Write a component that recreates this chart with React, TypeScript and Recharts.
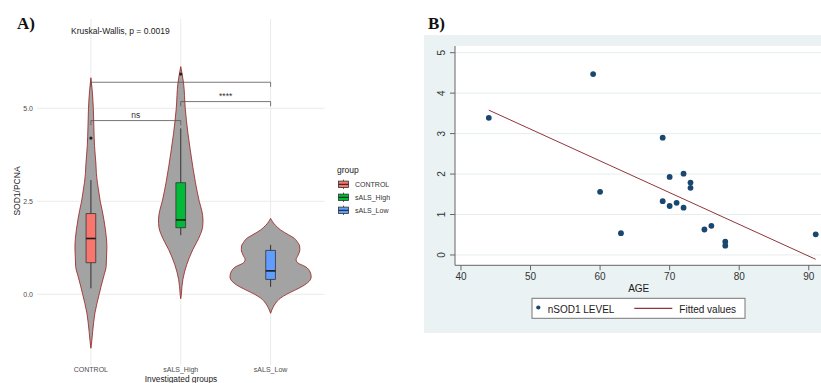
import React from 'react';
import {
  ComposedChart, Area, Line, Scatter, XAxis, YAxis, CartesianGrid,
  ReferenceLine, ReferenceArea, ReferenceDot,
} from 'recharts';

// ---- Panel A: SOD1/PCNA by group ----
const groups = ['CONTROL', 'sALS_High', 'sALS_Low'];
const groupPos = [1, 2, 3];
const groupColors = ['#F8766D', '#00BA38', '#619CFF'];
const majorTicksA = [0, 2.5, 5];
const minorTicksA = [-1.25, 1.25, 3.75, 6.25];

// violin outlines: SOD1/PCNA value and half width (in group units)
const controlY = [-1.45, -1.25, -1.0, -0.75, -0.5, -0.25, 0, 0.25, 0.5, 0.75, 1.0, 1.25, 1.5, 1.75, 2.0, 2.25, 2.5, 2.75, 3.0, 3.25, 3.5, 4.0, 4.5, 5.0, 5.5, 5.82];
const controlW = [0, 0.01, 0.02, 0.031, 0.045, 0.067, 0.092, 0.117, 0.145, 0.17, 0.174, 0.178, 0.173, 0.161, 0.145, 0.126, 0.104, 0.088, 0.072, 0.061, 0.056, 0.04, 0.033, 0.027, 0.014, 0];
const highY = [-0.12, 0, 0.2, 0.4, 0.6, 0.8, 1.0, 1.2, 1.4, 1.6, 1.8, 2.0, 2.25, 2.5, 2.75, 3.0, 3.43, 3.88, 4.33, 5.0, 5.68, 5.9, 6.12];
const highW = [0, 0.007, 0.013, 0.024, 0.042, 0.067, 0.098, 0.134, 0.178, 0.217, 0.243, 0.248, 0.234, 0.206, 0.184, 0.164, 0.134, 0.106, 0.08, 0.05, 0.031, 0.017, 0];
const lowY = [-0.51, -0.42, -0.35, -0.24, -0.1, 0, 0.12, 0.25, 0.35, 0.47, 0.6, 0.74, 0.85, 0.93, 1.05, 1.2, 1.3, 1.4, 1.5, 1.6, 1.73, 1.85, 1.95, 2.04];
const lowW = [0, 0.014, 0.028, 0.056, 0.111, 0.178, 0.278, 0.378, 0.429, 0.452, 0.44, 0.39, 0.3, 0.284, 0.306, 0.326, 0.323, 0.3, 0.267, 0.2, 0.111, 0.056, 0.022, 0];

// boxplot stats per group
const whiskerLow = [0.16, 1.59, 0.2];
const q1 = [0.85, 1.79, 0.4];
const median = [1.5, 2.0, 0.63];
const q3 = [2.17, 3.0, 1.18];
const whiskerHigh = [3.07, 4.46, 1.33];
const outlierGroup = [1, 2];
const outlierValue = [4.2, 5.92];

// significance brackets
const bracketFrom = [1, 2, 1];
const bracketTo = [3, 3, 2];
const bracketY = [5.7, 5.18, 4.67];
const bracketLabel = ['', '****', 'ns'];

// ---- Panel B: nSOD1 level vs age ----
const ages = [44, 59, 69, 70, 72, 73, 73, 60, 69, 70, 71, 72, 63, 75, 76, 78, 78, 91];
const levels = [3.39, 4.47, 2.9, 1.93, 2.01, 1.79, 1.66, 1.56, 1.33, 1.21, 1.29, 1.17, 0.54, 0.63, 0.72, 0.33, 0.23, 0.51];
const fitAges = [44, 91];
const fitValues = [3.58, -0.107];

const violinRows = [
  ...controlY.map((v, i) => ({ g: 0, v, hw: controlW[i] })),
  ...highY.map((v, i) => ({ g: 1, v, hw: highW[i] })),
  ...lowY.map((v, i) => ({ g: 2, v, hw: lowW[i] })),
];
const sodRows = ages.map((age, i) => ({ age, level: levels[i] }));
const fitRows = fitAges.map((age, i) => ({ age, fit: fitValues[i] }));

const SANS = 'Liberation Sans, Arial, sans-serif';
const BOX_HW = 0.054;
const TIP = 0.124;
const A_MARGIN = { top: 19, right: 95.5, bottom: 0, left: 0 };
const A_YDOMAIN: [number, number] = [-1.9, 7.4];
const A_XDOMAIN: [number, number] = [0.4, 3.6];

// minor grid drawn in a chart underneath so it stays behind the violins
function PanelAGrid() {
  return (
    <ComposedChart width={420} height={383} data={violinRows} layout="vertical" margin={A_MARGIN}>
      <CartesianGrid stroke="#f3f3f3" strokeWidth={0.8} vertical={false} syncWithTicks />
      <XAxis type="number" domain={A_XDOMAIN} ticks={groupPos} allowDataOverflow height={18} tick={false} tickLine={false} axisLine={false} />
      <YAxis type="number" dataKey="v" domain={A_YDOMAIN} ticks={minorTicksA} reversed allowDataOverflow width={37} tick={false} tickLine={false} axisLine={false} />
    </ComposedChart>
  );
}

function PanelA() {
  return (
    <ComposedChart
      width={420}
      height={383}
      data={violinRows}
      layout="vertical"
      margin={A_MARGIN}
      style={{ fontFamily: SANS }}
    >
      <CartesianGrid stroke="#ebebeb" strokeWidth={1} syncWithTicks />
      <XAxis
        type="number"
        domain={A_XDOMAIN}
        ticks={groupPos}
        allowDataOverflow
        tickFormatter={(v: number) => groups[Math.round(v) - 1]}
        height={18}
        tickSize={0}
        tickMargin={2.5}
        axisLine={false}
        stroke="#4d4d4d"
        tick={{ fontSize: 7, fill: '#4d4d4d' }}
      />
      <YAxis
        type="number"
        dataKey="v"
        domain={A_YDOMAIN}
        ticks={majorTicksA}
        reversed
        allowDataOverflow
        width={37}
        tickSize={0}
        tickMargin={4}
        axisLine={false}
        stroke="#4d4d4d"
        tickFormatter={(v: number) => v.toFixed(1)}
        tick={{ fontSize: 7, fill: '#4d4d4d' }}
      />
      {groupPos.map((pos, gi) => (
        <Area
          key={'vio' + gi}
          dataKey={(d: any) => (d.g === gi ? [pos - d.hw, pos + d.hw] : [null, null])}
          type="monotone"
          fill="#a3a3a3"
          fillOpacity={1}
          stroke="#9b1c1c"
          strokeWidth={0.8}
          dot={false}
          activeDot={false}
          isAnimationActive={false}
        />
      ))}
      {groupPos.map((pos, gi) => (
        <ReferenceLine key={'wl' + gi} segment={[{ x: pos, y: whiskerLow[gi] }, { x: pos, y: q1[gi] }]} stroke="#333" strokeWidth={1} />
      ))}
      {groupPos.map((pos, gi) => (
        <ReferenceLine key={'wh' + gi} segment={[{ x: pos, y: q3[gi] }, { x: pos, y: whiskerHigh[gi] }]} stroke="#333" strokeWidth={1} />
      ))}
      {groupPos.map((pos, gi) => (
        <ReferenceArea
          key={'box' + gi}
          x1={pos - BOX_HW}
          x2={pos + BOX_HW}
          y1={q1[gi]}
          y2={q3[gi]}
          fill={groupColors[gi]}
          fillOpacity={1}
          stroke="#333"
          strokeWidth={0.8}
        />
      ))}
      {groupPos.map((pos, gi) => (
        <ReferenceLine key={'med' + gi} segment={[{ x: pos - BOX_HW, y: median[gi] }, { x: pos + BOX_HW, y: median[gi] }]} stroke="#1a1a1a" strokeWidth={1.6} />
      ))}
      {outlierGroup.map((g, i) => (
        <ReferenceDot key={'o' + i} x={g} y={outlierValue[i]} r={1.6} fill="#222" stroke="none" />
      ))}
      {bracketY.map((y, i) => (
        <ReferenceLine key={'bl' + i} segment={[{ x: bracketFrom[i], y: y - TIP }, { x: bracketFrom[i], y }]} stroke="#555" strokeWidth={0.8} />
      ))}
      {bracketY.map((y, i) => (
        <ReferenceLine key={'br' + i} segment={[{ x: bracketTo[i], y: y - TIP }, { x: bracketTo[i], y }]} stroke="#555" strokeWidth={0.8} />
      ))}
      {bracketY.map((y, i) => (
        <ReferenceLine
          key={'bh' + i}
          segment={[{ x: bracketFrom[i], y }, { x: bracketTo[i], y }]}
          stroke="#555"
          strokeWidth={0.8}
          label={{ value: bracketLabel[i], position: 'top', offset: 3, fontSize: 8.5, fill: '#333' }}
        />
      ))}
    </ComposedChart>
  );
}

const RotTick = (p: any) => {
  const cx = p.x - 6;
  return (
    <text
      x={cx}
      y={p.y}
      transform={`rotate(-90, ${cx}, ${p.y})`}
      textAnchor="middle"
      dominantBaseline="central"
      fontSize={10}
      fill="#333"
    >
      {p.payload.value}
    </text>
  );
};

function PanelB() {
  return (
    <ComposedChart
      width={410}
      height={298}
      margin={{ top: 11, right: 0, bottom: 47.7, left: 0 }}
      style={{ fontFamily: SANS }}
    >
      <CartesianGrid vertical={false} fill="#ffffff" fillOpacity={1} stroke="#e6eef0" strokeWidth={1} syncWithTicks />
      <XAxis
        type="number"
        dataKey="age"
        domain={[39.14, 93.63]}
        ticks={[40, 50, 60, 70, 80, 90]}
        allowDataOverflow
        height={20}
        tickSize={5}
        tickMargin={3}
        stroke="#666"
        tick={{ fontSize: 10, fill: '#333' }}
      />
      <YAxis
        type="number"
        dataKey="level"
        domain={[-0.255, 5.165]}
        ticks={[0, 1, 2, 3, 4, 5]}
        allowDataOverflow
        width={31}
        tickSize={5}
        tickMargin={2}
        stroke="#666"
        tick={<RotTick />}
      />
      <Line
        data={fitRows}
        dataKey="fit"
        type="linear"
        stroke="#90353b"
        strokeWidth={1}
        dot={false}
        activeDot={false}
        isAnimationActive={false}
      />
      <Scatter
        data={sodRows}
        dataKey="level"
        fill="#1a476f"
        isAnimationActive={false}
        shape={(p: any) => <circle cx={p.cx} cy={p.cy} r={2.9} fill="#1a476f" />}
      />
    </ComposedChart>
  );
}

export default function App() {
  const legendRowY = groups.map((_, i) => 184.3 + i * 13);
  return (
    <div
      style={{
        position: 'absolute', left: 0, top: 0, width: 821, height: 383,
        overflow: 'hidden', background: '#fff', fontFamily: SANS,
      }}
    >
      <div style={{ position: 'absolute', left: 424, top: 35, width: 420, height: 298, background: '#eaf2f3' }} />
      <div style={{ position: 'absolute', left: 0, top: 0 }}>
        <PanelAGrid />
      </div>
      <div style={{ position: 'absolute', left: 0, top: 0 }}>
        <PanelA />
      </div>
      <div style={{ position: 'absolute', left: 424, top: 35 }}>
        <PanelB />
      </div>
      <svg width={821} height={383} style={{ position: 'absolute', left: 0, top: 0, pointerEvents: 'none' }} fontFamily={SANS}>
        <text x={17} y={28.7} fontFamily="Liberation Serif, Times New Roman, serif" fontWeight="bold" fontSize={17} fill="#111">A)</text>
        <text x={428} y={28.7} fontFamily="Liberation Serif, Times New Roman, serif" fontWeight="bold" fontSize={17} fill="#111">B)</text>
        <text x={71} y={34} fontSize={8.5} fill="#1a1a1a">Kruskal-Wallis, p = 0.0019</text>
        <text transform="translate(17,191) rotate(-90)" textAnchor="middle" dominantBaseline="central" fontSize={8.5} fill="#1a1a1a">SOD1/PCNA</text>
        <text x={181} y={381.6} textAnchor="middle" fontSize={8.3} fill="#1a1a1a">Investigated groups</text>

        <text x={337} y={172.5} fontSize={8.5} fill="#1a1a1a">group</text>
        {groups.map((g, i) => {
          const y = legendRowY[i];
          return (
            <g key={g}>
              <line x1={343.5} x2={343.5} y1={y - 4.7} y2={y + 4.7} stroke="#333" strokeWidth={0.8} />
              <rect x={338.5} y={y - 3.2} width={10} height={6.4} fill={groupColors[i]} stroke="#333" strokeWidth={0.8} />
              <line x1={338.5} x2={348.5} y1={y} y2={y} stroke="#1a1a1a" strokeWidth={1} />
              <text x={355} y={y + 2.5} fontSize={7} fill="#333">{g}</text>
            </g>
          );
        })}

        <rect x={532} y={298.3} width={213} height={20} fill="#fff" stroke="#777" strokeWidth={1} />
        <circle cx={538.3} cy={307.5} r={2.1} fill="#1a476f" />
        <text x={547.7} y={313} fontSize={10} fill="#1a1a1a">nSOD1 LEVEL</text>
        <line x1={634.3} x2={672.3} y1={308.3} y2={308.3} stroke="#90353b" strokeWidth={1.2} />
        <text x={679.3} y={313} fontSize={10} fill="#1a1a1a">Fitted values</text>
        <text x={638.7} y={292} textAnchor="middle" fontSize={10} fill="#1a1a1a">AGE</text>
      </svg>
    </div>
  );
}
